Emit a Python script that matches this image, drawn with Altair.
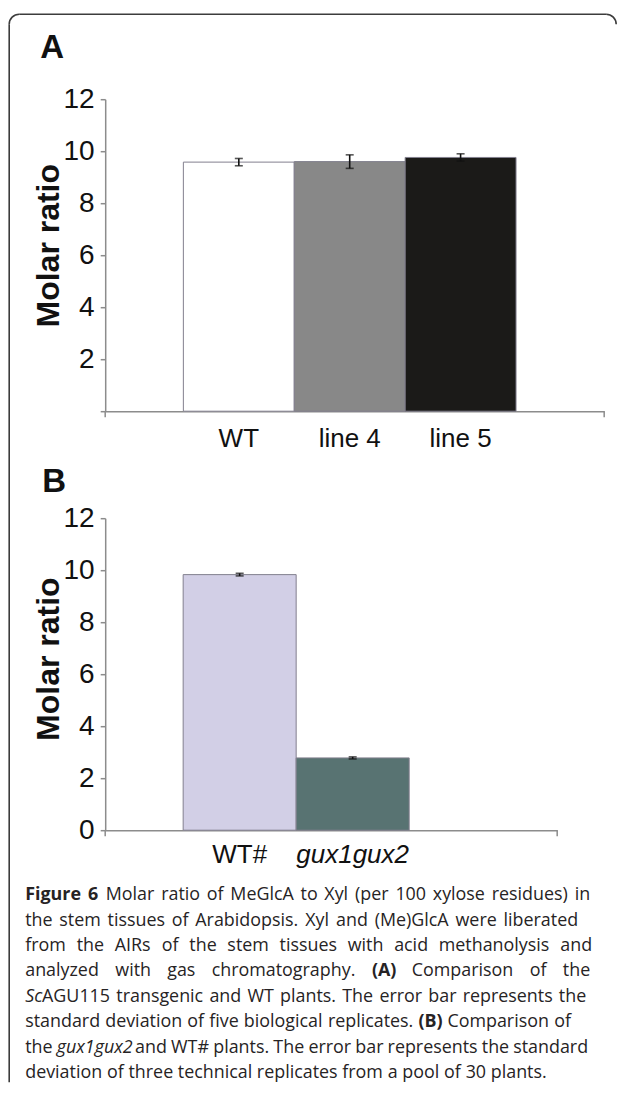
import altair as alt
import pandas as pd

# ---------------- data ----------------
a_labels = ["WT", "line 4", "line 5"]
a_means = [9.58, 9.60, 9.76]
a_sd = [0.14, 0.26, 0.14]
a_fill = ["#ffffff", "#888888", "#1b1a18"]

b_labels = ["WT#", "gux1gux2"]
b_means = [9.83, 2.78]
b_sd = [0.05, 0.04]
b_fill = ["#d2cfe6", "#587372"]

y_ticks = [0, 2, 4, 6, 8, 10, 12]

caption = [
    [("Figure 6 ", "bold"), ("Molar ratio of MeGlcA to Xyl (per 100 xylose residues) in", "normal")],
    [("the stem tissues of Arabidopsis. Xyl and (Me)GlcA were liberated", "normal")],
    [("from the AIRs of the stem tissues with acid methanolysis and", "normal")],
    [("analyzed with gas chromatography. ", "normal"), ("(A)", "bold"), (" Comparison of the", "normal")],
    [("Sc", "italic"), ("AGU115 transgenic and WT plants. The error bar represents the", "normal")],
    [("standard deviation of five biological replicates. ", "normal"), ("(B)", "bold"), (" Comparison of", "normal")],
    [("the ", "normal"), ("gux1gux2", "italic"), (" and WT# plants. The error bar represents the standard", "normal")],
    [("deviation of three technical replicates from a pool of 30 plants.", "normal")],
]
# right edge of each justified caption line (None = last line, not justified)
caption_line_end = [590, 578, 592, 590, 586, 571, 588, None]

# ---------------- layout ----------------
PX0, PY0 = 105, 99          # page position of panel A plot origin
H = 312                     # plot height (0..12)
GAP = 107
W_A, W_B, W_C = 499, 452, 499
CAP_Y0 = PY0 + 2 * H + 2 * GAP
AX = "#8c8c8c"
FONT = "Liberation Sans"
CAP_FONT = "Open Sans"
CAP_SIZE = 17.9
CAP_X = 25.0

# approximate Open Sans advance widths (units / 2048) for caption layout
OS_W = {" ": 532, ".": 545, ",": 502, "(": 608, ")": 608, "#": 1323,
        "a": 1139, "b": 1255, "c": 975, "d": 1255, "e": 1149, "f": 694, "g": 1122,
        "h": 1257, "i": 518, "j": 518, "k": 1075, "l": 518, "m": 1905, "n": 1257,
        "o": 1237, "p": 1255, "q": 1255, "r": 836, "s": 977, "t": 723, "u": 1257,
        "v": 1026, "w": 1593, "x": 1073, "y": 1028, "z": 977,
        "A": 1296, "B": 1327, "C": 1292, "D": 1493, "E": 1124, "F": 1061, "G": 1483,
        "H": 1511, "I": 604, "M": 1849, "S": 1122, "T": 1139, "U": 1503, "W": 1894,
        "X": 1208, "R": 1298}
for d in "0123456789":
    OS_W[d] = 1171


def text_w(s, style):
    k = {"normal": 1.0, "bold": 1.08, "italic": 0.92}[style]
    return sum(OS_W.get(c, 1150) for c in s) / 2048 * CAP_SIZE * k


def panel(labels, means, sds, fills, width, pad_outer, align, letter, letter_xy,
          title_xy, label_pad, hide_zero, italic_label=None):
    df = pd.DataFrame({"g": labels, "m": means,
                       "lo": [m - s for m, s in zip(means, sds)],
                       "hi": [m + s for m, s in zip(means, sds)]})
    label_style = "normal"
    if italic_label:
        label_style = {"condition": {"test": f"datum.value === '{italic_label}'", "value": "italic"},
                       "value": "normal"}
    x_axis = alt.Axis(title=None, labelAngle=0, ticks=False, tickSize=0, labelPadding=label_pad,
                      labelFont=FONT, labelFontSize=26, labelColor="#111111",
                      labelFontStyle=label_style, domainColor=AX, domainWidth=1.5, grid=False)
    xs = alt.Scale(domain=labels, paddingInner=0, paddingOuter=pad_outer, align=align)
    y_axis = alt.Axis(values=y_ticks, title="Molar ratio", titleFont=FONT, titleFontSize=32,
                      titleFontWeight="bold", titleColor="#111111", titleAngle=270,
                      titleX=title_xy[0], titleY=title_xy[1], titleAlign="center",
                      titleBaseline="middle", labelFont=FONT, labelFontSize=28,
                      labelColor="#111111", labelPadding=6, tickSize=5, tickColor=AX,
                      tickWidth=1.5, domainColor=AX, domainWidth=1.5, grid=False,
                      labelExpr=("datum.value === 0 ? '' : datum.label") if hide_zero else "datum.label")
    ys = alt.Scale(domain=[0, 12], nice=False)
    X = alt.X("g:N", scale=xs, sort=labels, axis=x_axis)

    base = alt.Chart(df)
    bars = base.mark_bar(stroke="#827f8e", strokeWidth=1).encode(
        x=X,
        y=alt.Y("m:Q", scale=ys, axis=y_axis),
        color=alt.Color("g:N", scale=alt.Scale(domain=labels, range=fills), legend=None),
    )
    err = base.mark_rule(color="#111111", strokeWidth=1.6).encode(
        x=X, y=alt.Y("lo:Q", scale=ys, axis=y_axis), y2="hi:Q")
    cap_lo = base.mark_tick(color="#111111", size=8, thickness=1.6).encode(
        x=X, y=alt.Y("lo:Q", scale=ys, axis=y_axis))
    cap_hi = base.mark_tick(color="#111111", size=8, thickness=1.6).encode(
        x=X, y=alt.Y("hi:Q", scale=ys, axis=y_axis))

    one = alt.Chart(pd.DataFrame({"t": [letter]}))
    end_l = one.mark_rule(color=AX, strokeWidth=1.5).encode(
        x=alt.value(0), y=alt.value(H), y2=alt.value(H + 6))
    end_r = one.mark_rule(color=AX, strokeWidth=1.5).encode(
        x=alt.value(width), y=alt.value(H), y2=alt.value(H + 6))
    let = one.mark_text(font=FONT, fontSize=33, fontWeight="bold", color="#111111",
                        align="left", baseline="alphabetic").encode(
        text="t:N", x=alt.value(letter_xy[0]), y=alt.value(letter_xy[1]))

    return alt.layer(bars, err, cap_lo, cap_hi, end_l, end_r, let).properties(
        width=width, height=H)


panel_a = panel(a_labels, a_means, a_sd, a_fill, W_A, 0.75, 0.47, "A", (-65, -41),
                (-56.5, 146), 14, True)
panel_b = panel(b_labels, b_means, b_sd, b_fill, W_B, 1.0, 0.345, "B", (-63, -26),
                (-56.5, 140.5), 11, False, italic_label="gux1gux2")

# ---------------- caption (word layout, justified lines) ----------------
rows = []
for i, line in enumerate(caption):
    # split into words; each word is a list of (text, style) runs
    words, cur = [], []
    for seg, st in line:
        parts = seg.split(" ")
        for j, p in enumerate(parts):
            if j > 0:
                if cur:
                    words.append(cur)
                cur = []
            if p:
                cur.append((p, st))
    if cur:
        words.append(cur)
    widths = [sum(text_w(t, s) for t, s in w) for w in words]
    end = caption_line_end[i]
    if end is None or len(words) < 2:
        gap = text_w(" ", "normal")
    else:
        gap = (end - CAP_X - sum(widths)) / (len(words) - 1)
    x = CAP_X
    for w, wd in zip(words, widths):
        xx = x
        for t, s in w:
            rows.append({"line": i, "text": t, "style": s, "x": xx - PX0})
            xx += text_w(t, s)
        x += wd + gap
cap_df = pd.DataFrame(rows)

cap_base = alt.Chart(cap_df)
cap_enc = dict(
    x=alt.X("x:Q", scale=None, axis=None),
    y=alt.Y("line:Q", scale=alt.Scale(domain=[0, 7], range=[900 - CAP_Y0, 1078 - CAP_Y0]), axis=None),
    text="text:N",
)
layers = []
for st, kw in [("normal", {}), ("bold", {"fontWeight": "bold"}), ("italic", {"fontStyle": "italic"})]:
    layers.append(cap_base.transform_filter(alt.datum.style == st).mark_text(
        font=CAP_FONT, fontSize=CAP_SIZE, color="#262324", align="left",
        baseline="alphabetic", **kw).encode(**cap_enc))

# frame (rounded top corners, left and top edges)
FR = "#3c3c3c"
fone = alt.Chart(pd.DataFrame({"k": [0]}))
left_edge = fone.mark_rule(color=FR, strokeWidth=1.6).encode(
    x=alt.value(9 - PX0), y=alt.value(24 - CAP_Y0), y2=alt.value(1082 - CAP_Y0))
top_edge = fone.mark_rule(color=FR, strokeWidth=1.6).encode(
    x=alt.value(19 - PX0), x2=alt.value(606 - PX0), y=alt.value(14 - CAP_Y0))
corner_l = fone.mark_arc(theta=4.7124, theta2=6.2832, radius=10.8, radius2=9.2, color=FR).encode(
    x=alt.value(19 - PX0), y=alt.value(24 - CAP_Y0))
corner_r = fone.mark_arc(theta=0, theta2=1.5708, radius=10.8, radius2=9.2, color=FR).encode(
    x=alt.value(606 - PX0), y=alt.value(24 - CAP_Y0))

cap_chart = alt.layer(left_edge, top_edge, corner_l, corner_r, *layers).properties(
    width=W_C, height=100)

chart = alt.vconcat(panel_a, panel_b, cap_chart, spacing=GAP, bounds="flush").resolve_scale(
    color="independent", x="independent"
).properties(
    padding={"left": 0.2, "top": 5.2, "right": 0, "bottom": 0}
).configure_view(strokeWidth=0)

chart.save("out.html", embed_options={"renderer": "svg", "actions": False})
